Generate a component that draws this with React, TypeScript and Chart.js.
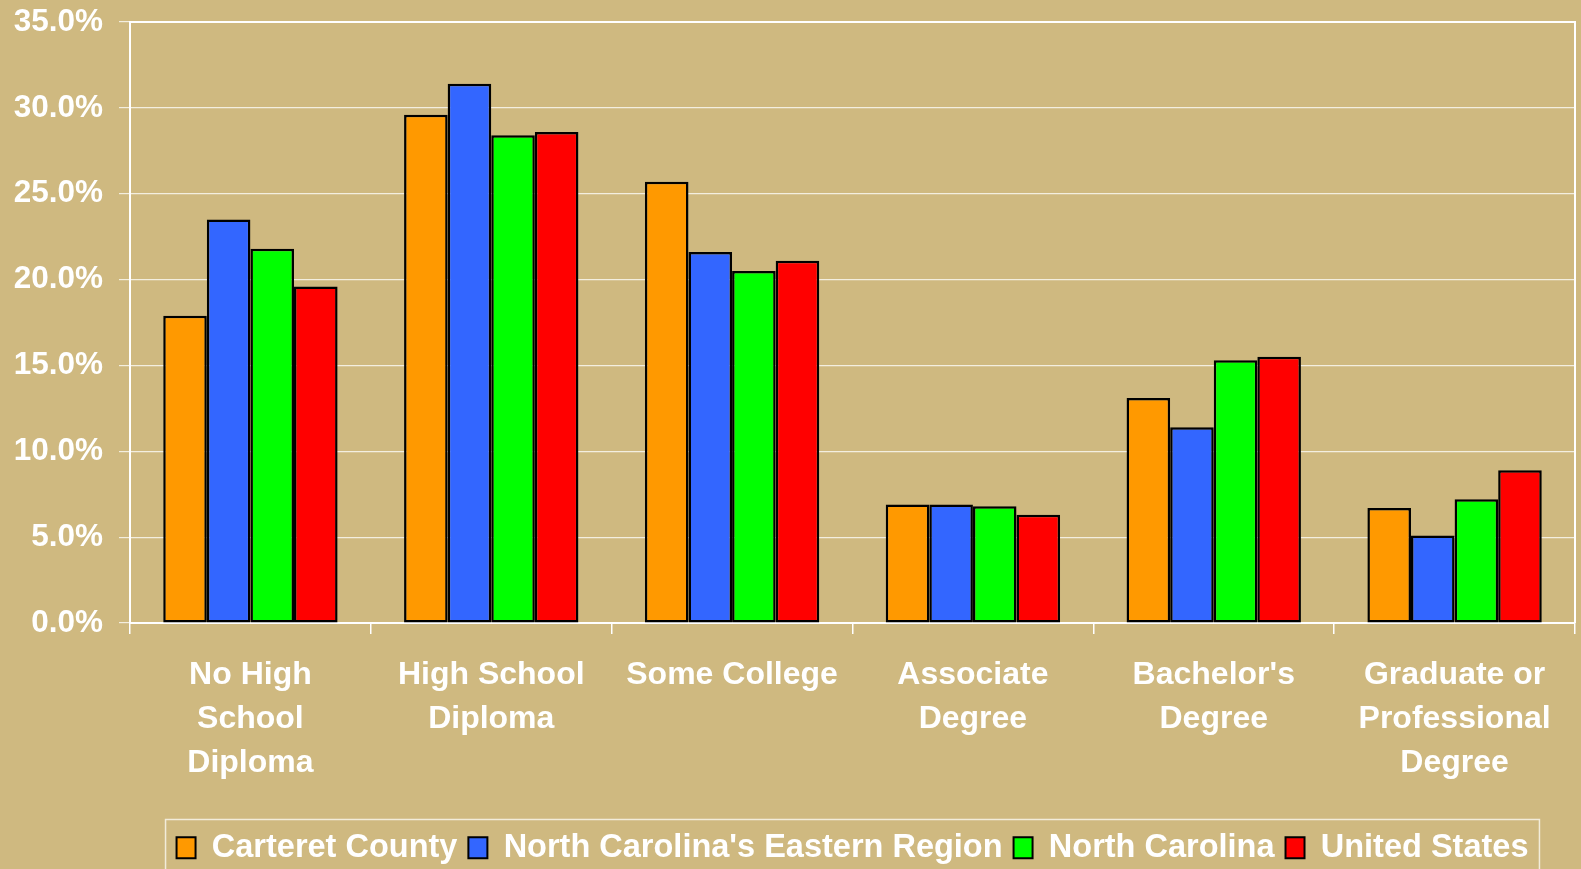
import React, { useEffect, useRef } from 'react';
import { Chart, registerables } from 'chart.js';

Chart.register(...registerables);

const categories: string[][] = [
  ['No High', 'School', 'Diploma'],
  ['High School', 'Diploma'],
  ['Some College'],
  ['Associate', 'Degree'],
  ["Bachelor's", 'Degree'],
  ['Graduate or', 'Professional', 'Degree'],
];
const seriesNames = ['Carteret County', "North Carolina's Eastern Region", 'North Carolina', 'United States'];
const carteretCounty = [17.9, 29.6, 25.7, 6.9, 13.1, 6.7];
const easternRegion = [23.5, 31.4, 21.6, 6.9, 11.4, 5.1];
const northCarolina = [21.8, 28.4, 20.5, 6.8, 15.3, 7.2];
const unitedStates = [19.6, 28.6, 21.1, 6.3, 15.5, 8.9];
const seriesColors = ['#FF9900', '#3366FF', '#00FF00', '#FF0000'];
const yMin = 0;
const yMax = 35;
const yStep = 5;

const BG = '#CFB980';
const FONT = "'Liberation Sans', Arial, Helvetica, sans-serif";

const plotFrame = {
  id: 'plotFrame',
  beforeDatasetsDraw(chart: any) {
    const { ctx, chartArea } = chart;
    ctx.save();
    ctx.strokeStyle = '#FFFFFF';
    ctx.lineWidth = 2;
    ctx.beginPath();
    ctx.moveTo(chartArea.left, chartArea.top);
    ctx.lineTo(chartArea.right, chartArea.top);
    ctx.lineTo(chartArea.right, chartArea.bottom);
    ctx.stroke();
    ctx.restore();
  },
};

const legendFrame = {
  id: 'legendFrame',
  afterDraw(chart: any) {
    const lg = chart.legend;
    if (!lg || !lg.legendHitBoxes || !lg.legendHitBoxes.length) return;
    const boxes = lg.legendHitBoxes;
    let l = Infinity;
    let r = -Infinity;
    for (const b of boxes) {
      l = Math.min(l, b.left);
      r = Math.max(r, b.left + b.width);
    }
    const { ctx } = chart;
    ctx.save();
    ctx.strokeStyle = '#F2ECDA';
    ctx.lineWidth = 1.5;
    ctx.strokeRect(l - 11, lg.top - 1, r - l + 22, chart.height);
    ctx.restore();
  },
};

export default function App() {
  const ref = useRef<HTMLCanvasElement>(null);
  useEffect(() => {
    document.body.style.margin = '0';
    const datasets = [carteretCounty, easternRegion, northCarolina, unitedStates].map((d, i) => ({
      label: seriesNames[i],
      data: d,
      backgroundColor: seriesColors[i],
      borderColor: '#000000',
      borderWidth: 2.5,
      borderSkipped: false as const,
      barPercentage: 1,
      categoryPercentage: 0.724,
    }));
    const chart = new Chart(ref.current!, {
      type: 'bar',
      data: { labels: categories, datasets },
      plugins: [plotFrame, legendFrame],
      options: {
        animation: false,
        responsive: false,
        devicePixelRatio: 1,
        layout: { padding: { left: 0, right: 6, top: 22, bottom: -5 } },
        plugins: {
          tooltip: { enabled: false },
          legend: {
            position: 'bottom',
            fullSize: false,
            labels: {
              color: '#FFFFFF',
              font: { family: FONT, size: 32.5, weight: 'bold' },
              boxWidth: 19,
              boxHeight: 21,
              padding: 11,
              generateLabels: (chart: any) =>
                chart.data.datasets.map((ds: any, i: number) => ({
                  text: ds.label,
                  fillStyle: ds.backgroundColor,
                  strokeStyle: '#000000',
                  lineWidth: 2,
                  fontColor: '#FFFFFF',
                  hidden: false,
                  datasetIndex: i,
                })),
            },
          },
        },
        scales: {
          x: {
            afterFit: (s: any) => {
              s.height = 197.5;
            },
            grid: {
              display: true,
              drawOnChartArea: false,
              drawTicks: true,
              tickLength: 11,
              color: '#FFFFFF',
              lineWidth: 1.5,
              offset: true,
            },
            border: { display: true, color: '#FFFFFF', width: 2 },
            ticks: {
              color: '#FFFFFF',
              font: { family: FONT, size: 32, weight: 'bold', lineHeight: '44px' },
              padding: 19,
              maxRotation: 0,
              autoSkip: false,
            },
          },
          y: {
            min: yMin,
            max: yMax,
            afterFit: (s: any) => {
              s.width = 130;
            },
            grid: {
              color: '#F3EEDF',
              lineWidth: 1.2,
              tickLength: 11,
            },
            border: { display: true, color: '#FFFFFF', width: 2 },
            ticks: {
              stepSize: yStep,
              color: '#FFFFFF',
              font: { family: FONT, size: 31.5, weight: 'bold', lineHeight: '10px' },
              padding: 16,
              callback: (v: any) => Number(v).toFixed(1) + '%',
            },
          },
        },
      },
    });
    return () => chart.destroy();
  }, []);
  return (
    <div style={{ position: 'fixed', left: 0, top: 0, width: 1581, height: 869, background: BG }}>
      <canvas ref={ref} width={1581} height={869} style={{ display: 'block', width: 1581, height: 869 }} />
    </div>
  );
}
